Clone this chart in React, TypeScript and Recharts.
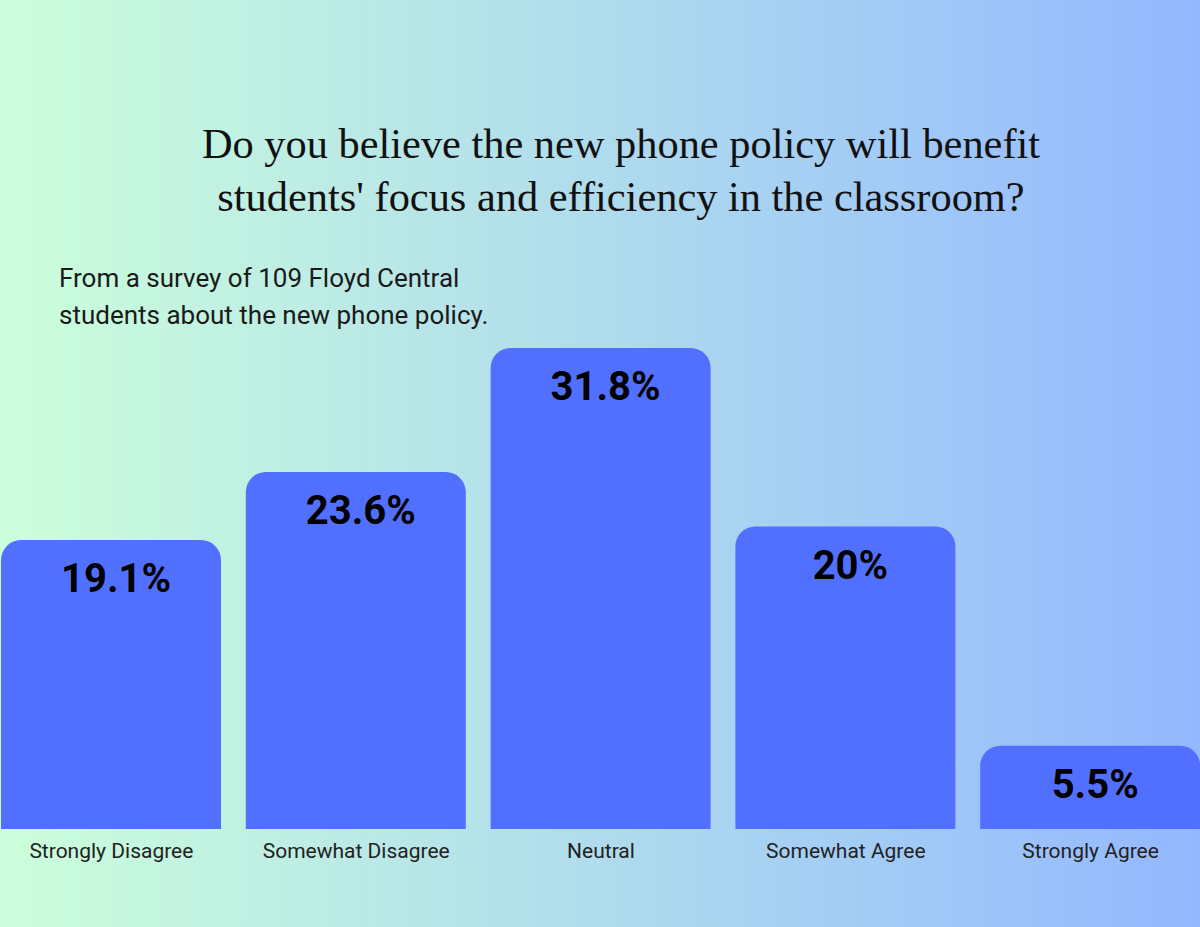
import React from "react";
import { BarChart, Bar, XAxis, YAxis, LabelList } from "recharts";

const categories = [
  "Strongly Disagree",
  "Somewhat Disagree",
  "Neutral",
  "Somewhat Agree",
  "Strongly Agree",
];
const percents = [19.1, 23.6, 31.8, 20, 5.5];
const percentLabels = ["19.1%", "23.6%", "31.8%", "20%", "5.5%"];

const data = categories.map((name, i) => ({
  name,
  value: percents[i],
  label: percentLabels[i],
}));

const App = () => {
  return (
    <div
      style={{
        position: "absolute",
        top: 0,
        left: 0,
        width: 1200,
        height: 927,
        overflow: "hidden",
        background: "linear-gradient(to right, #ccffdb, #93b8ff)",
      }}
    >
      {/* Title */}
      <div
        style={{
          position: "absolute",
          top: 117,
          left: 0,
          width: 1242,
          textAlign: "center",
          fontFamily: "'Liberation Serif', serif",
          fontSize: 42.4,
          lineHeight: "53px",
          color: "#111",
        }}
      >
        Do you believe the new phone policy will benefit
        <br />
        students' focus and efficiency in the classroom?
      </div>

      {/* Subtitle */}
      <div
        style={{
          position: "absolute",
          top: 260,
          left: 59,
          fontFamily: "Roboto, sans-serif",
          fontSize: 26,
          lineHeight: "37px",
          color: "#1a1a1a",
        }}
      >
        From a survey of 109 Floyd Central
        <br />
        students about the new phone policy.
      </div>

      <div style={{ position: "absolute", top: 0, left: -11 }}>
        <BarChart
          width={1224}
          height={927}
          data={data}
          margin={{ top: 348, right: 0, bottom: 68, left: 0 }}
          barCategoryGap={0}
        >
          <XAxis
            dataKey="name"
            axisLine={false}
            tickLine={false}
            tickMargin={8}
            interval={0}
            tick={{ fill: "#222", fontSize: 21, fontFamily: "Roboto, sans-serif" }}
          />
          <YAxis hide width={0} domain={[0, Math.max(...percents)]} />
          <Bar
            dataKey="value"
            fill="#5170ff"
            barSize={220}
            radius={[20, 20, 0, 0]}
            isAnimationActive={false}
          >
            <LabelList
              dataKey="label"
              position="insideTop"
              offset={24}
              dx={5}
              fill="#000"
              style={{
                fontSize: 40,
                fontWeight: 700,
                fontFamily: "Roboto, sans-serif",
              }}
            />
          </Bar>
        </BarChart>
      </div>
    </div>
  );
};

export default App;
